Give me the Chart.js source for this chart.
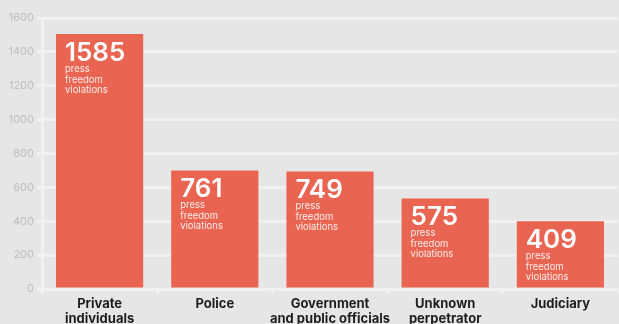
<!DOCTYPE html>
<html>
<head>
<meta charset="utf-8">
<script src="https://cdn.jsdelivr.net/npm/chart.js@4"></script>
<style>
    html, body { margin: 0; padding: 0; background: #e6e6e6; overflow: hidden; }
    #wrap { width: 619px; height: 324px; position: relative; }
</style>
</head>
<body>
<div id="wrap"><canvas id="violationsChart"></canvas></div>
<script>
// Categories and values
const categories = [
    ['Private', 'individuals'],
    'Police',
    ['Government', 'and public officials'],
    ['Unknown', 'perpetrator'],
    'Judiciary'
];
// bar heights as drawn against the axis
const barValues = [1505, 700, 694, 535, 400];
// numbers printed inside the bars
const violationCounts = [1585, 761, 749, 575, 409];
const captionLines = ['press', 'freedom', 'violations'];
const yTicks = [0, 200, 400, 600, 800, 1000, 1200, 1400, 1600];

const barColor = '#ea6452';
const gridColor = '#f1f1f1';

// draws the big number + caption in the top-left of each bar
const barLabelPlugin = {
    id: 'barLabels',
    afterDatasetsDraw(chart) {
        const ctx = chart.ctx;
        const meta = chart.getDatasetMeta(0);
        ctx.save();
        meta.data.forEach((bar, i) => {
            const left = bar.x - bar.width / 2 + 9;
            const top = bar.y;
            ctx.fillStyle = '#ffffff';
            ctx.textAlign = 'left';
            ctx.textBaseline = 'alphabetic';
            ctx.font = '600 26px Inter';
            ctx.fillText(String(violationCounts[i]), left, top + 27);
            ctx.font = '9.5px Inter';
            ctx.fillStyle = 'rgba(255,255,255,0.88)';
            captionLines.forEach((line, j) => {
                ctx.fillText(line, left, top + 38 + j * 10.5);
            });
        });
        ctx.restore();
    }
};

function initializeChart() {
    const ctx = document.getElementById('violationsChart');
    if (!ctx) return;

    return new Chart(ctx.getContext('2d'), {
        type: 'bar',
        data: {
            labels: categories,
            datasets: [{
                data: barValues,
                backgroundColor: barColor,
                borderWidth: 0,
                barPercentage: 0.757,
                categoryPercentage: 1
            }]
        },
        options: {
            responsive: true,
            maintainAspectRatio: false,
            animation: false,
            events: [],
            layout: {
                padding: { top: 18, right: 1, left: 0, bottom: 0 }
            },
            plugins: {
                legend: { display: false },
                tooltip: { enabled: false }
            },
            scales: {
                x: {
                    grid: {
                        drawOnChartArea: false,
                        drawTicks: true,
                        tickLength: 5,
                        color: gridColor,
                        lineWidth: 3
                    },
                    border: { display: false },
                    ticks: {
                        color: '#1e1e1e',
                        padding: 2,
                        maxRotation: 0,
                        autoSkip: false,
                        font: { family: 'Inter', size: 13, weight: 'bold', lineHeight: 1.2 }
                    },
                    afterFit(scale) { scale.height = 35; }
                },
                y: {
                    min: 0,
                    max: 1600,
                    afterBuildTicks(scale) {
                        scale.ticks = yTicks.map(v => ({ value: v }));
                    },
                    grid: {
                        color: gridColor,
                        lineWidth: 3,
                        tickLength: 5
                    },
                    border: { display: true, color: gridColor, width: 3 },
                    ticks: {
                        color: '#bdbdbd',
                        padding: 3,
                        font: { family: 'Inter', size: 11 },
                        callback: (value) => String(value)
                    },
                    afterFit(scale) { scale.width = 42; }
                }
            }
        },
        plugins: [barLabelPlugin]
    });
}

initializeChart();
</script>
</body>
</html>
